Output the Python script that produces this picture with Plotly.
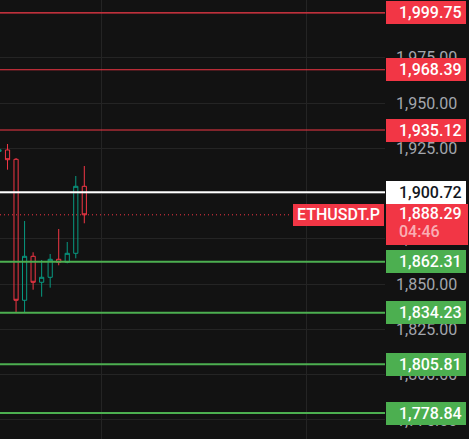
import plotly.graph_objects as go

# ---- data ----
bar_index = list(range(11))
open_ = [1923.3, 1924.08, 1918.94, 1841.08, 1865.37, 1851.02, 1853.78, 1863.72, 1862.06, 1867.03, 1904.03]
high = [1924.6, 1927.39, 1919.66, 1884.87, 1867.58, 1863.33, 1866.64, 1880.45, 1873.27, 1909.72, 1915.24]
low = [1922.9, 1913.20, 1834.23, 1834.23, 1846.93, 1843.07, 1848.03, 1860.41, 1861.51, 1864.27, 1883.60]
close = [1924.2, 1918.72, 1841.08, 1865.37, 1851.02, 1853.78, 1863.72, 1862.06, 1867.03, 1904.03, 1888.29]

red_levels = [1999.75, 1968.39, 1935.12]
white_levels = [1900.72]
green_levels = [1862.31, 1834.23, 1805.81, 1778.84]
current_price = 1888.29
countdown = "04:46"
symbol = "ETHUSDT.P"

# ---- style ----
BG = "#121212"
GRID = "#242424"
RED = "#F23645"
GREEN_LINE = "#4CAF50"
CANDLE_UP = "#089981"
CANDLE_DN = "#F23645"
AXIS_TXT = "#a3a6ad"
FONT = "Roboto"

fig = go.Figure()
fig.add_trace(go.Candlestick(
    x=bar_index, open=open_, high=high, low=low, close=close,
    increasing=dict(line=dict(color=CANDLE_UP, width=1), fillcolor="rgba(0,0,0,0)"),
    decreasing=dict(line=dict(color=CANDLE_DN, width=1), fillcolor="rgba(0,0,0,0)"),
    whiskerwidth=0, showlegend=False, hoverinfo="skip",
))

shapes = []
annotations = []


def fmt(v):
    return f"{v:,.2f}"


def add_label(price, bg, fg):
    annotations.append(dict(
        x=1.0, xref="paper", xanchor="left", xshift=1,
        y=price, yref="y", yanchor="middle",
        text="\u00a0", showarrow=False, width=80, height=22.5,
        bgcolor=bg, borderwidth=0, borderpad=0, font=dict(size=4),
    ))
    annotations.append(dict(
        x=1.0, xref="paper", xanchor="left", xshift=14,
        y=price, yref="y", yanchor="middle",
        text=fmt(price), showarrow=False, borderwidth=0, borderpad=0,
        font=dict(family=FONT, size=16, color=fg, weight=500),
    ))


for p in red_levels:
    shapes.append(dict(type="line", xref="paper", x0=0, x1=1, yref="y", y0=p, y1=p,
                       line=dict(color=RED, width=1.2)))
    add_label(p, RED, "#ffffff")
for p in white_levels:
    shapes.append(dict(type="line", xref="paper", x0=0, x1=1, yref="y", y0=p, y1=p,
                       line=dict(color="#ffffff", width=2)))
    add_label(p, "#ffffff", "#131722")
for p in green_levels:
    shapes.append(dict(type="line", xref="paper", x0=0, x1=1, yref="y", y0=p, y1=p,
                       line=dict(color=GREEN_LINE, width=2)))
    add_label(p, GREEN_LINE, "#ffffff")

# current price dotted line
shapes.append(dict(type="line", xref="paper", x0=0, x1=0.753, yref="y",
                   y0=current_price, y1=current_price,
                   line=dict(color=RED, width=1, dash="1px,3px")))

# symbol tag
annotations.append(dict(
    x=384 / 385, xref="paper", xanchor="right",
    y=current_price, yref="y", yanchor="middle",
    text=symbol, showarrow=False, width=91, height=21.5, align="center",
    bgcolor=RED, borderwidth=0, borderpad=0,
    font=dict(family=FONT, size=16, color="#ffffff", weight=500),
))
# current price box
annotations.append(dict(
    x=1.0, xref="paper", xanchor="left", xshift=1,
    y=current_price, yref="y", yanchor="top", yshift=10.5,
    text="\u00a0", showarrow=False, width=82, height=41,
    bgcolor=RED, borderwidth=0, borderpad=0, font=dict(size=4),
))
annotations.append(dict(
    x=1.0, xref="paper", xanchor="left", xshift=14,
    y=current_price, yref="y", yanchor="middle", yshift=1,
    text=fmt(current_price), showarrow=False, borderwidth=0, borderpad=0,
    font=dict(family=FONT, size=16, color="#ffffff", weight=500),
))
annotations.append(dict(
    x=1.0, xref="paper", xanchor="left", xshift=14,
    y=current_price, yref="y", yanchor="middle", yshift=-17,
    text=countdown, showarrow=False, borderwidth=0, borderpad=0,
    font=dict(family=FONT, size=16, color="rgba(255,255,255,0.62)", weight=500),
))

fig.update_layout(
    width=469, height=439,
    margin=dict(l=0, r=84, t=0, b=0, autoexpand=False),
    paper_bgcolor=BG, plot_bgcolor=BG,
    showlegend=False,
    shapes=shapes, annotations=annotations,
    boxgap=0.3,
    xaxis=dict(range=[0.117, 45.25], showticklabels=False, showgrid=True,
               gridcolor=GRID, gridwidth=1, tick0=12, dtick=24, zeroline=False,
               rangeslider=dict(visible=False), fixedrange=True),
    yaxis=dict(range=[1764.48, 2006.91], side="right", tick0=0, dtick=25,
               tickformat=",.2f", showgrid=True, gridcolor=GRID, gridwidth=1,
               zeroline=False, ticks="", ticklabelstandoff=10,
               tickfont=dict(family=FONT, size=16, color=AXIS_TXT)),
)

fig.write_html(
    "out.html",
    config={"displayModeBar": False},
    post_script="document.body.style.margin='0';document.body.style.background='#121212';",
)
